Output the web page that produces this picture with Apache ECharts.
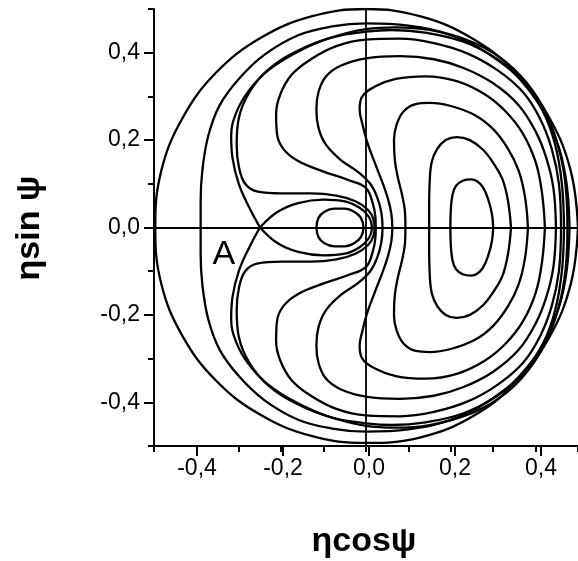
<!DOCTYPE html>
<html>
<head>
<meta charset="utf-8">
<script src="https://cdn.jsdelivr.net/npm/echarts@6.0.0/dist/echarts.min.js"></script>
<style>
  html, body { margin: 0; padding: 0; background: #fff; }
  #chart { width: 578px; height: 561px; }
</style>
</head>
<body>
<div id="chart"></div>
<script>
// tick labels of both axes
var tickValues = [-0.4, -0.2, 0.0, 0.2, 0.4];

// level curves as [ηcosψ, ηsinψ]
var outerCircle = [[0.5,0],[0.483,0.129],[0.433,0.25],[0.354,0.354],[0.25,0.433],[0.129,0.483],[0,0.5],
  [-0.129,0.483],[-0.25,0.433],[-0.354,0.354],[-0.433,0.25],[-0.483,0.129],[-0.497,0],
  [-0.483,-0.128],[-0.433,-0.248],[-0.354,-0.35],[-0.25,-0.428],[-0.129,-0.477],[0,-0.493],
  [0.129,-0.48],[0.25,-0.433],[0.354,-0.354],[0.433,-0.25],[0.483,-0.129],[0.5,0]];

var curveC2 = [[0.48,0],[0.47,0.12],[0.44,0.22],[0.38,0.32],[0.3,0.39],[0.2,0.44],[0.1,0.462],[0,0.467],
  [-0.08,0.46],[-0.16,0.44],[-0.24,0.395],[-0.3,0.34],[-0.345,0.28],[-0.372,0.21],[-0.386,0.13],[-0.39,0.06],[-0.39,0],
  [-0.39,-0.06],[-0.386,-0.13],[-0.372,-0.21],[-0.345,-0.28],[-0.3,-0.34],[-0.24,-0.395],[-0.16,-0.44],[-0.08,-0.46],
  [0,-0.467],[0.1,-0.462],[0.2,-0.44],[0.3,-0.39],[0.38,-0.32],[0.44,-0.22],[0.47,-0.12],[0.48,0]];

var outerSeparatrix = [[-0.25,0],[-0.275,0.045],[-0.3,0.1],[-0.315,0.16],[-0.318,0.21],[-0.305,0.265],[-0.275,0.315],
  [-0.23,0.36],[-0.165,0.4],[-0.09,0.432],[0,0.454],[0.07,0.458],[0.15,0.452],[0.235,0.43],[0.315,0.39],[0.38,0.33],
  [0.43,0.25],[0.46,0.16],[0.473,0.07],[0.475,0],[0.473,-0.07],[0.46,-0.16],[0.43,-0.25],[0.38,-0.33],[0.315,-0.39],
  [0.235,-0.43],[0.15,-0.452],[0.07,-0.458],[0,-0.454],[-0.09,-0.432],[-0.165,-0.4],[-0.23,-0.36],[-0.275,-0.315],
  [-0.305,-0.265],[-0.318,-0.21],[-0.315,-0.16],[-0.3,-0.1],[-0.275,-0.045],[-0.25,0]];

var noseCurve = [[0.467,0],[0.462,0.1],[0.446,0.19],[0.418,0.265],[0.375,0.33],[0.31,0.385],[0.23,0.425],[0.14,0.446],
  [0.06,0.452],[0,0.448],[-0.08,0.435],[-0.16,0.405],[-0.23,0.362],[-0.275,0.31],[-0.3,0.25],[-0.305,0.19],[-0.3,0.14],
  [-0.285,0.1],[-0.255,0.082],[-0.2,0.078],[-0.13,0.078],[-0.07,0.073],[-0.025,0.06],[0.005,0.04],[0.018,0.018],[0.02,0],
  [0.018,-0.018],[0.005,-0.04],[-0.025,-0.06],[-0.07,-0.073],[-0.13,-0.078],[-0.2,-0.078],[-0.255,-0.082],[-0.285,-0.1],
  [-0.3,-0.14],[-0.305,-0.19],[-0.3,-0.25],[-0.275,-0.31],[-0.23,-0.362],[-0.16,-0.405],[-0.08,-0.435],[0,-0.448],
  [0.06,-0.452],[0.14,-0.446],[0.23,-0.425],[0.31,-0.385],[0.375,-0.33],[0.418,-0.265],[0.446,-0.19],[0.462,-0.1],[0.467,0]];

var curveR6 = [[0.46,0],[0.455,0.1],[0.438,0.18],[0.41,0.25],[0.37,0.31],[0.31,0.36],[0.24,0.398],[0.16,0.422],[0.08,0.432],
  [0,0.43],[-0.07,0.415],[-0.13,0.385],[-0.175,0.35],[-0.202,0.305],[-0.212,0.26],[-0.21,0.215],[-0.195,0.18],[-0.16,0.152],
  [-0.1,0.128],[-0.04,0.108],[0,0.09],[0.016,0.055],[0.022,0.025],[0.023,0],[0.022,-0.025],[0.016,-0.055],[0,-0.09],
  [-0.04,-0.108],[-0.1,-0.128],[-0.16,-0.152],[-0.195,-0.18],[-0.21,-0.215],[-0.212,-0.26],[-0.202,-0.305],[-0.175,-0.35],
  [-0.13,-0.385],[-0.07,-0.415],[0,-0.43],[0.08,-0.432],[0.16,-0.422],[0.24,-0.398],[0.31,-0.36],[0.37,-0.31],[0.41,-0.25],
  [0.438,-0.18],[0.455,-0.1],[0.46,0]];

var curveR5 = [[0.448,0],[0.442,0.09],[0.425,0.16],[0.4,0.22],[0.36,0.28],[0.3,0.33],[0.23,0.365],[0.16,0.385],[0.08,0.392],
  [0,0.387],[-0.06,0.37],[-0.095,0.345],[-0.112,0.31],[-0.117,0.27],[-0.112,0.228],[-0.095,0.19],[-0.06,0.155],[-0.02,0.128],
  [0.01,0.1],[0.026,0.07],[0.036,0.035],[0.039,0],[0.036,-0.035],[0.026,-0.07],[0.01,-0.1],[-0.02,-0.128],[-0.06,-0.155],
  [-0.095,-0.19],[-0.112,-0.228],[-0.117,-0.27],[-0.112,-0.31],[-0.095,-0.345],[-0.06,-0.37],[0,-0.387],[0.08,-0.392],
  [0.16,-0.385],[0.23,-0.365],[0.3,-0.33],[0.36,-0.28],[0.4,-0.22],[0.425,-0.16],[0.442,-0.09],[0.448,0]];

var curveR4 = [[0.422,0],[0.415,0.08],[0.4,0.15],[0.37,0.215],[0.33,0.265],[0.28,0.305],[0.214,0.335],[0.14,0.346],
  [0.07,0.34],[0.02,0.322],[-0.01,0.298],[-0.015,0.27],[-0.008,0.235],[0.003,0.195],[0.02,0.15],[0.038,0.105],[0.052,0.065],
  [0.06,0.03],[0.062,0],[0.06,-0.03],[0.052,-0.065],[0.038,-0.105],[0.02,-0.15],[0.003,-0.195],[-0.008,-0.235],[-0.015,-0.27],
  [-0.01,-0.298],[0.02,-0.322],[0.07,-0.34],[0.14,-0.346],[0.214,-0.335],[0.28,-0.305],[0.33,-0.265],[0.37,-0.215],
  [0.4,-0.15],[0.415,-0.08],[0.422,0]];

var curveR3 = [[0.382,0],[0.375,0.07],[0.36,0.13],[0.335,0.18],[0.3,0.225],[0.257,0.257],[0.2,0.278],[0.15,0.285],
  [0.115,0.282],[0.088,0.265],[0.072,0.235],[0.066,0.2],[0.068,0.155],[0.075,0.115],[0.085,0.075],[0.092,0.035],[0.093,0],
  [0.092,-0.035],[0.085,-0.075],[0.075,-0.115],[0.068,-0.155],[0.066,-0.2],[0.072,-0.235],[0.088,-0.265],[0.115,-0.282],
  [0.15,-0.285],[0.2,-0.278],[0.257,-0.257],[0.3,-0.225],[0.335,-0.18],[0.36,-0.13],[0.375,-0.07],[0.382,0]];

var curveR2 = [[0.342,0],[0.335,0.06],[0.322,0.11],[0.3,0.148],[0.276,0.178],[0.245,0.2],[0.214,0.207],[0.188,0.2],
  [0.168,0.18],[0.155,0.15],[0.15,0.1],[0.149,0.05],[0.149,0],[0.149,-0.05],[0.15,-0.1],[0.155,-0.15],[0.168,-0.18],
  [0.188,-0.2],[0.214,-0.207],[0.245,-0.2],[0.276,-0.178],[0.3,-0.148],[0.322,-0.11],[0.335,-0.06],[0.342,0]];

var curveR1 = [[0.3,0],[0.297,0.031],[0.288,0.065],[0.276,0.092],[0.262,0.106],[0.248,0.11],[0.228,0.107],[0.212,0.095],
  [0.204,0.075],[0.2,0.04],[0.199,0],[0.2,-0.04],[0.204,-0.075],[0.212,-0.095],[0.228,-0.107],[0.248,-0.11],[0.262,-0.106],
  [0.276,-0.092],[0.288,-0.065],[0.297,-0.031],[0.3,0]];

var innerSeparatrix = [[-0.25,0],[-0.21,0.035],[-0.16,0.056],[-0.1,0.064],[-0.05,0.06],[-0.015,0.045],[0.007,0.024],[0.014,0],
  [0.007,-0.024],[-0.015,-0.045],[-0.05,-0.06],[-0.1,-0.064],[-0.16,-0.056],[-0.21,-0.035],[-0.25,0]];

var smallOval = [[-0.117,0],[-0.112,0.022],[-0.098,0.036],[-0.075,0.043],[-0.05,0.043],[-0.028,0.036],[-0.012,0.022],
  [-0.006,0],[-0.012,-0.022],[-0.028,-0.036],[-0.05,-0.043],[-0.075,-0.043],[-0.098,-0.036],[-0.112,-0.022],[-0.117,0]];

var curves = [outerCircle, curveC2, outerSeparatrix, noseCurve, curveR6, curveR5, curveR4,
  curveR3, curveR2, curveR1, innerSeparatrix, smallOval];

// saddle point label
var saddleLabel = { text: 'A', x: -0.335, y: -0.062 };

var chart = echarts.init(document.getElementById('chart'));

function fmt(v) {
  return v.toFixed(1).replace('.', ',');
}

var seriesList = curves.map(function (d, i) {
  var s = {
    type: 'line',
    data: d,
    smooth: 0.4,
    symbol: 'none',
    silent: true,
    xAxisIndex: 0,
    yAxisIndex: 0,
    lineStyle: { color: '#000', width: 2.3 }
  };
  if (i === 0) {
    s.markLine = {
      silent: true,
      symbol: ['none', 'none'],
      label: { show: false },
      lineStyle: { color: '#000', width: 1.8, type: 'solid' },
      data: [{ xAxis: 0 }, { yAxis: 0 }]
    };
  }
  return s;
});

var tickFont = { fontFamily: 'Liberation Sans', fontSize: 23, color: '#000' };

var option = {
  animation: false,
  backgroundColor: '#fff',
  grid: [
    { left: 154, top: 9, width: 430, height: 437 },
    { left: 197, top: 52.7, width: 344, height: 349.6 }
  ],
  xAxis: [
    {
      gridIndex: 0, type: 'value', min: -0.5, max: 0.5, interval: 0.1,
      axisLine: { onZero: false, lineStyle: { color: '#000', width: 2 } },
      axisTick: { length: 6, lineStyle: { color: '#000', width: 2 } },
      axisLabel: { show: false },
      splitLine: { show: false }
    },
    {
      gridIndex: 1, type: 'value', min: tickValues[0], max: tickValues[tickValues.length - 1], interval: 0.2,
      offset: 43.7,
      axisLine: { show: false, onZero: false },
      axisTick: { length: 10, lineStyle: { color: '#000', width: 2 } },
      axisLabel: Object.assign({ margin: 11, formatter: fmt }, tickFont),
      splitLine: { show: false }
    }
  ],
  yAxis: [
    {
      gridIndex: 0, type: 'value', min: -0.5, max: 0.5, interval: 0.1,
      axisLine: { onZero: false, lineStyle: { color: '#000', width: 2 } },
      axisTick: { length: 6, lineStyle: { color: '#000', width: 2 } },
      axisLabel: { show: false },
      splitLine: { show: false }
    },
    {
      gridIndex: 1, type: 'value', min: tickValues[0], max: tickValues[tickValues.length - 1], interval: 0.2,
      offset: 43,
      axisLine: { show: false, onZero: false },
      axisTick: { length: 10, lineStyle: { color: '#000', width: 2 } },
      axisLabel: Object.assign({ margin: 14, formatter: fmt }, tickFont),
      splitLine: { show: false }
    }
  ],
  graphic: [
    {
      id: 'xTitle', type: 'text', x: 364, y: 542,
      style: { text: 'ηcosψ', font: 'bold 34px "Liberation Sans"', fill: '#000', align: 'center', verticalAlign: 'middle' }
    },
    {
      id: 'yTitle', type: 'text', x: 30, y: 228, rotation: Math.PI / 2,
      style: { text: 'ηsin ψ', font: 'bold 34px "Liberation Sans"', fill: '#000', align: 'center', verticalAlign: 'middle' }
    }
  ],
  series: seriesList
};

chart.setOption(option);

// place the saddle label through the axes
var aPos = chart.convertToPixel({ gridIndex: 0 }, [saddleLabel.x, saddleLabel.y]);
chart.setOption({
  graphic: [
    {
      id: 'labelA', type: 'text', x: aPos[0], y: aPos[1],
      style: { text: saddleLabel.text, font: '34px "Liberation Sans"', fill: '#000', align: 'center', verticalAlign: 'middle' }
    }
  ]
});
</script>
</body>
</html>
